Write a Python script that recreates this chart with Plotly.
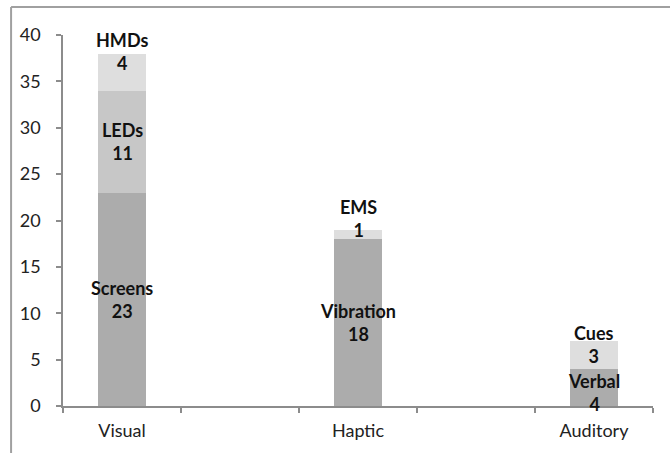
import plotly.graph_objects as go

# Feedback modalities and their sub-types (stacked counts)
categories = ["Visual", "Haptic", "Auditory"]
axis_categories = ["Visual", " ", "Haptic", "  ", "Auditory"]

base_names = ["Screens", "Vibration", "Verbal"]
base_values = [23, 18, 4]

mid_names = ["LEDs", "", ""]
mid_values = [11, 0, 0]

top_names = ["HMDs", "EMS", "Cues"]
top_values = [4, 1, 3]

y_ticks = [0, 5, 10, 15, 20, 25, 30, 35, 40]

# label nudges (pixels) so the labels of thin segments sit above them
base_shift = [0, 0, -5]
mid_shift = [0, 0, 0]
top_shift = [21, 16, 10]

DARK = "#acacac"
MID = "#c7c7c7"
LIGHT = "#dedede"
FONT = "Lato"

fig = go.Figure()
for vals, color in [(base_values, DARK), (mid_values, MID), (top_values, LIGHT)]:
    fig.add_trace(go.Bar(
        x=categories, y=vals, width=0.4,
        marker=dict(color=color, line=dict(width=0)),
        hoverinfo="skip", showlegend=False,
    ))

annotations = []
for i, cat in enumerate(categories):
    layers = [
        (base_names[i], base_values[i], 0, base_shift[i]),
        (mid_names[i], mid_values[i], base_values[i], mid_shift[i]),
        (top_names[i], top_values[i], base_values[i] + mid_values[i], top_shift[i]),
    ]
    for name, val, start, shift in layers:
        if val <= 0:
            continue
        annotations.append(dict(
            x=cat, y=start + val / 2, xref="x", yref="y",
            text=f"<b>{name}<br>{val}</b>", showarrow=False,
            yshift=shift, align="center",
            font=dict(family=FONT, size=18, color="#111111"),
        ))

fig.update_layout(
    width=670, height=453,
    margin=dict(l=63, r=17, t=35, b=47),
    paper_bgcolor="white", plot_bgcolor="white",
    barmode="stack", bargap=0.6,
    annotations=annotations,
    font=dict(family=FONT, size=18, color="#222222"),
    xaxis=dict(
        type="category", categoryorder="array", categoryarray=axis_categories,
        range=[-0.5, 4.5], showgrid=False, zeroline=False,
        showline=True, linecolor="#8c8c8c", linewidth=1.5,
        ticks="outside", tickson="boundaries", ticklen=5,
        tickcolor="#8c8c8c", tickwidth=1.5, ticklabelstandoff=8,
        tickfont=dict(family=FONT, size=18, color="#222222"),
        fixedrange=True,
    ),
    yaxis=dict(
        range=[0, 40], tickvals=y_ticks, showgrid=False, zeroline=False,
        showline=True, linecolor="#8c8c8c", linewidth=1.5,
        ticks="outside", ticklen=5, tickcolor="#8c8c8c", tickwidth=1.5,
        ticklabelstandoff=12,
        tickfont=dict(family=FONT, size=18, color="#222222"),
        fixedrange=True,
    ),
    shapes=[
        # outer chart frame (top and left edges)
        dict(type="line", xref="paper", yref="paper",
             x0=-0.088, x1=1.03, y0=1.0755, y1=1.0755,
             line=dict(color="#a0a0a0", width=2)),
        dict(type="line", xref="paper", yref="paper",
             x0=-0.088, x1=-0.088, y0=1.0755, y1=-0.2,
             line=dict(color="#a0a0a0", width=2)),
    ],
)

fig.write_html("out.html")
